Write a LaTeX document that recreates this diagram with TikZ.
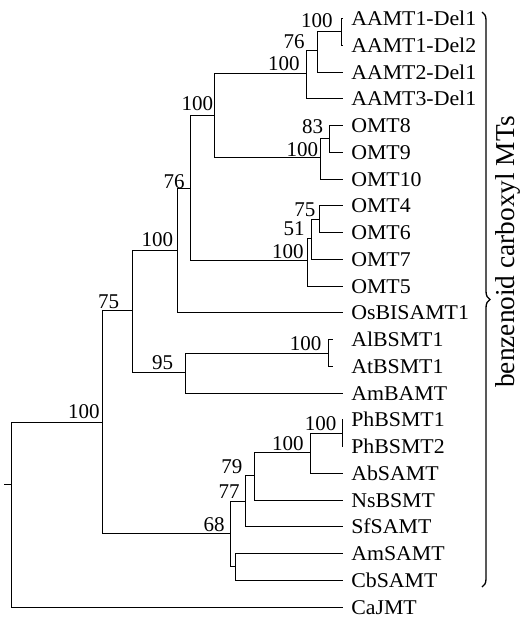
\documentclass[tikz,border=0pt]{standalone}
\usepackage{fontspec}
\setmainfont{Liberation Serif}
\newfontfamily\leaffont{Liberation Serif}[FakeStretch=1.04]
\usepackage{tikz}
\usetikzlibrary{decorations.pathreplacing}

\begin{document}
\begin{tikzpicture}[
  x=0.75pt, y=-0.75pt,
  branch/.style={line width=0.7pt},
  leaf/.style={anchor=base west, inner sep=0pt, font=\leaffont\fontsize{15.75}{18}\selectfont},
  bs/.style={anchor=base east, inner sep=0pt, font=\fontsize{15.75}{18}\selectfont}
]
  \useasboundingbox (0,0) rectangle (519,622);

  % Leaves
  \node[leaf] (aamt1del1) at (351,25.5)   {AAMT1-Del1};
  \node[leaf] (aamt1del2) at (351,52.25)  {AAMT1-Del2};
  \node[leaf] (aamt2del1) at (351,79)     {AAMT2-Del1};
  \node[leaf] (aamt3del1) at (351,105.75) {AAMT3-Del1};
  \node[leaf] (omt8)      at (351,132.5)  {OMT8};
  \node[leaf] (omt9)      at (351,159.25) {OMT9};
  \node[leaf] (omt10)     at (351,186)    {OMT10};
  \node[leaf] (omt4)      at (351,212.75) {OMT4};
  \node[leaf] (omt6)      at (351,239.5)  {OMT6};
  \node[leaf] (omt7)      at (351,266.25) {OMT7};
  \node[leaf] (omt5)      at (351,293)    {OMT5};
  \node[leaf] (osbisamt1) at (351,319.75) {OsBISAMT1};
  \node[leaf] (albsmt1)   at (351,346.5)  {AlBSMT1};
  \node[leaf] (atbsmt1)   at (351,373.25) {AtBSMT1};
  \node[leaf] (ambamt)    at (351,400)    {AmBAMT};
  \node[leaf] (phbsmt1)   at (351,426.75) {PhBSMT1};
  \node[leaf] (phbsmt2)   at (351,453.5)  {PhBSMT2};
  \node[leaf] (absamt)    at (351,480.25) {AbSAMT};
  \node[leaf] (nsbsmt)    at (351,507)    {NsBSMT};
  \node[leaf] (sfsamt)    at (351,533.75) {SfSAMT};
  \node[leaf] (amsamt)    at (351,560.5)  {AmSAMT};
  \node[leaf] (cbsamt)    at (351,587.25) {CbSAMT};
  \node[leaf] (cajmt)     at (351,614)    {CaJMT};

  % Tips
  \coordinate (taamt1del1) at (343,18.5);
  \coordinate (taamt1del2) at (343,45.25);
  \coordinate (taamt2del1) at (343,72);
  \coordinate (taamt3del1) at (343,98.75);
  \coordinate (tomt8)      at (343,125.5);
  \coordinate (tomt9)      at (343,152.25);
  \coordinate (tomt10)     at (343,179);
  \coordinate (tomt4)      at (343,205.75);
  \coordinate (tomt6)      at (343,232.5);
  \coordinate (tomt7)      at (343,259.25);
  \coordinate (tomt5)      at (343,286);
  \coordinate (tosbisamt1) at (343,312.75);
  \coordinate (talbsmt1)   at (333,339.5);
  \coordinate (tatbsmt1)   at (333,366.25);
  \coordinate (tambamt)    at (343,393);
  \coordinate (tphbsmt1)   at (343,419.75);
  \coordinate (tphbsmt2)   at (343,446.5);
  \coordinate (tabsamt)    at (343,473.25);
  \coordinate (tnsbsmt)    at (343,500);
  \coordinate (tsfsamt)    at (343,526.75);
  \coordinate (tamsamt)    at (343,553.5);
  \coordinate (tcbsamt)    at (343,580.25);
  \coordinate (tcajmt)     at (343,607);

  % Inner nodes
  \coordinate (aamt1)  at (341,31.5);
  \coordinate (aamt12) at (317.7,50.7);
  \coordinate (aamt)   at (306.7,73.3);
  \coordinate (omt89)  at (329.3,138.3);
  \coordinate (omt810) at (320,157.3);
  \coordinate (aaomt)  at (214.3,115);
  \coordinate (omt46)  at (319,219.3);
  \coordinate (omt467) at (311.7,238.3);
  \coordinate (omt47)  at (307.7,260.7);
  \coordinate (omtall) at (190.7,188.3);
  \coordinate (osclade) at (177.7,250);
  \coordinate (albs)   at (328.3,353);
  \coordinate (bsclade) at (185.3,372.3);
  \coordinate (upper)  at (132.3,310.7);
  \coordinate (phbs)   at (342.3,433.2);
  \coordinate (phab)   at (310,452.3);
  \coordinate (phns)   at (254.3,475);
  \coordinate (phsf)   at (245,501);
  \coordinate (amcb)   at (235.7,566.7);
  \coordinate (lower)  at (230.7,533.3);
  \coordinate (ingroup) at (102.7,422.3);
  \coordinate (root)   at (11,484);
  \coordinate (stem)   at (4,484);

  % Branches
  \begin{scope}[branch]
    \draw (aamt1) |- (taamt1del1);  \draw (aamt1) |- (taamt1del2);
    \draw (aamt12) |- (aamt1);      \draw (aamt12) |- (taamt2del1);
    \draw (aamt) |- (aamt12);       \draw (aamt) |- (taamt3del1);
    \draw (omt89) |- (tomt8);       \draw (omt89) |- (tomt9);
    \draw (omt810) |- (omt89);      \draw (omt810) |- (tomt10);
    \draw (aaomt) |- (aamt);        \draw (aaomt) |- (omt810);
    \draw (omt46) |- (tomt4);       \draw (omt46) |- (tomt6);
    \draw (omt467) |- (omt46);      \draw (omt467) |- (tomt7);
    \draw (omt47) |- (omt467);      \draw (omt47) |- (tomt5);
    \draw (omtall) |- (aaomt);      \draw (omtall) |- (omt47);
    \draw (osclade) |- (omtall);    \draw (osclade) |- (tosbisamt1);
    \draw (albs) |- (talbsmt1);     \draw (albs) |- (tatbsmt1);
    \draw (bsclade) |- (albs);      \draw (bsclade) |- (tambamt);
    \draw (upper) |- (osclade);     \draw (upper) |- (bsclade);
    \draw (phbs) |- (tphbsmt1);     \draw (phbs) |- (tphbsmt2);
    \draw (phab) |- (phbs);         \draw (phab) |- (tabsamt);
    \draw (phns) |- (phab);         \draw (phns) |- (tnsbsmt);
    \draw (phsf) |- (phns);         \draw (phsf) |- (tsfsamt);
    \draw (amcb) |- (tamsamt);      \draw (amcb) |- (tcbsamt);
    \draw (lower) |- (phsf);        \draw (lower) |- (amcb);
    \draw (ingroup) |- (upper);     \draw (ingroup) |- (lower);
    \draw (root) |- (ingroup);      \draw (root) |- (tcajmt);
    \draw (stem) -- (root);
  \end{scope}

  % Bootstrap values
  \node[bs] (baamt1)  at (333,27)     {100};
  \node[bs] (baamt12) at (305,48.3)   {76};
  \node[bs] (baamt)   at (300,70)     {100};
  \node[bs] (baaomt)  at (213.3,110)  {100};
  \node[bs] (bomt89)  at (323.3,133)  {83};
  \node[bs] (bomt810) at (318.3,156.7) {100};
  \node[bs] (bomt46)  at (315.7,216.7) {75};
  \node[bs] (bomt467) at (305,235)    {51};
  \node[bs] (bomt47)  at (304,258)    {100};
  \node[bs] (bomtall) at (185,188)    {76};
  \node[bs] (bosclade) at (173.3,246.7) {100};
  \node[bs] (bupper)  at (119.3,308.3) {75};
  \node[bs] (bbsclade) at (173.3,369.3) {95};
  \node[bs] (balbs)   at (321.7,350)  {100};
  \node[bs] (bingroup) at (100,418)   {100};
  \node[bs] (bphbs)   at (336.7,430)  {100};
  \node[bs] (bphab)   at (304,450)    {100};
  \node[bs] (bphns)   at (242.7,473)  {79};
  \node[bs] (bphsf)   at (240,498.3)  {77};
  \node[bs] (blower)  at (225,531.7)  {68};

  % Brace
  \draw[line width=1pt, decorate, decoration={brace, amplitude=6pt}]
    (482,12) -- (482,587);
  \node[rotate=90, anchor=base, inner sep=0pt, font=\fontsize{20.5}{24}\selectfont]
    (benzenoid) at (514,252) {benzenoid carboxyl MTs};
\end{tikzpicture}
\end{document}
